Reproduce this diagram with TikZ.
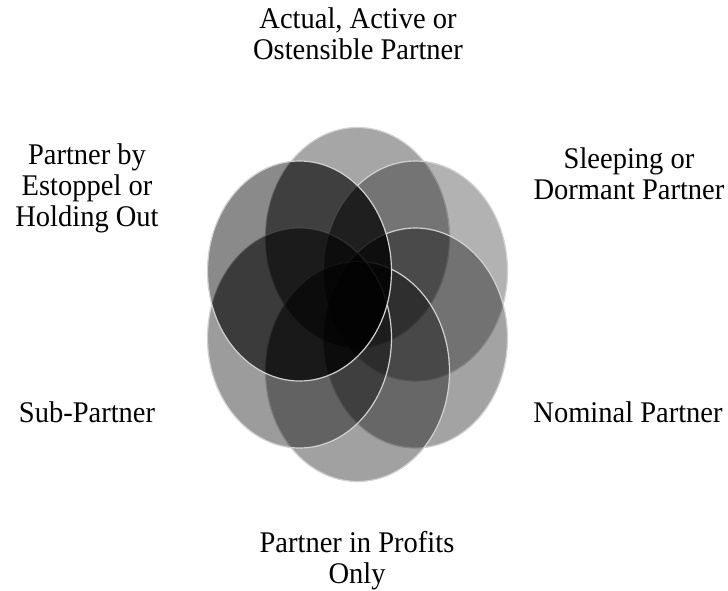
\documentclass[tikz,border=0pt]{standalone}
\usepackage{fontspec}
\setmainfont[FakeStretch=0.95]{Liberation Serif}
\usetikzlibrary{positioning}
\definecolor{rim}{rgb}{0.82,0.82,0.82}
\tikzset{
    petal/.style={fill=black, draw=rim, line width=1.2pt}, % the six overlapping ellipses
    kindtext/.style={align=center, inner sep=0pt, font=\fontsize{30}{31}\selectfont}, % kinds of partner
}

\begin{document}
\begin{tikzpicture}[x=1pt, y=-1pt]
    \useasboundingbox (0,0) rectangle (728,590);
    % Centres of the ellipses
    \coordinate (c) at (357.5,304.5);
    \coordinate[above=67pt of c] (top);
    \coordinate[above right=33.5pt and 58pt of c] (ur);
    \coordinate[below right=33.5pt and 58pt of c] (lr);
    \coordinate[below=67pt of c] (bot);
    \coordinate[below left=33.5pt and 58pt of c] (ll);
    \coordinate[above left=33.5pt and 58pt of c] (ul);

    % Ellipses
    \foreach \p/\o in {top/0.35, ur/0.30, lr/0.36, bot/0.37, ll/0.39}
        \path[petal, fill opacity=\o] (\p) ellipse [x radius=92pt, y radius=110pt];
    % darker where the upper left one overlaps the rest
    \foreach \p in {top, ur, lr, bot, ll} {
        \begin{scope}
            \clip (\p) ellipse [x radius=92pt, y radius=110pt];
            \fill[black, fill opacity=0.3] (ul) ellipse [x radius=92pt, y radius=110pt];
        \end{scope}
    }
    \path[petal, fill opacity=0.46] (ul) ellipse [x radius=92pt, y radius=110pt];

    % Labels
    \node[kindtext] (actual) at (358,34) {Actual, Active or\\Ostensible Partner};
    \node[kindtext] (sleeping) at (629,174) {Sleeping or\\Dormant Partner};
    \node[kindtext] (nominal) at (628,412) {Nominal Partner};
    \node[kindtext] (profits) at (357,561) {Partner in Profits\\Only};
    \node[kindtext] (sub) at (87,412) {Sub-Partner};
    \node[kindtext] (estoppel) at (87,188) {Partner by\\Estoppel or\\Holding Out};
\end{tikzpicture}
\end{document}
